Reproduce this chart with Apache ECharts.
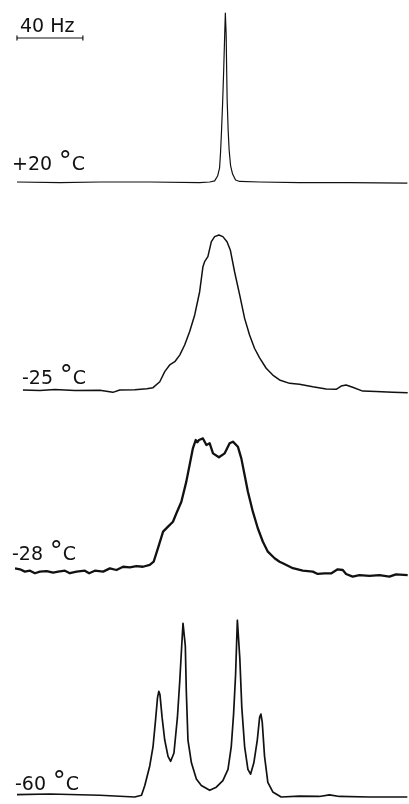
<!DOCTYPE html>
<html>
<head>
<meta charset="utf-8">
<script src="https://cdn.jsdelivr.net/npm/echarts@6/dist/echarts.min.js"></script>
<style>
html,body{margin:0;padding:0;background:#fff;}
#chart{width:409px;height:804px;}
</style>
</head>
<body>
<div id="chart"></div>
<script>
// Frequency axis in Hz, intensity in arbitrary units (0 = baseline, 100 = tallest)
const labelTemps = ['+20', '-25', '-28', '-60'];
const labelUnit = '°C';
const scaleBarHz = [0, 40];
const scaleBarLabel = '40 Hz';

const spec20 = [[0,0],[26.1,-0.3],[50.3,0],[80.6,0],[110.9,-0.3],[117.0,0],[120.0,0.6],[121.8,3.3],[123.0,7.8],[123.6,16.7],[124.2,28.9],[124.8,42.8],[125.5,62.2],[126.1,81.7],[126.5,93.9],[127.0,81.7],[127.3,62.2],[127.6,45.6],[128.2,28.9],[128.8,17.8],[129.7,8.9],[130.9,4.4],[132.7,1.1],[135.2,0.3],[147.3,0],[171.5,-0.3],[201.8,-0.3],[237.0,-0.6]];

const spec25 = [[3.6,0],[13.9,-0.3],[23.0,0.3],[35.2,-0.3],[50.3,-0.2],[58.2,-1.3],[62.4,0],[71.5,0.2],[78.8,0.7],[82.6,1.3],[86.7,4.6],[89.7,10.2],[92.7,13.9],[95.8,15.7],[98.8,19.4],[101.8,25.0],[104.8,32.4],[107.9,41.7],[110.9,54.6],[112.9,68.5],[113.9,71.3],[115.9,74.1],[118.0,82.4],[120.0,85.2],[122.6,86.1],[125.0,85.2],[127.5,82.4],[129.5,77.8],[132.1,65.7],[135.2,52.8],[138.2,39.8],[141.2,30.6],[144.2,23.2],[147.3,17.8],[151.3,12.1],[155.3,8.3],[159.4,5.6],[165.5,3.7],[171.5,3.2],[179.6,1.8],[187.7,0.6],[193.8,0.4],[196.8,2.2],[199.8,2.8],[203.8,1.5],[209.9,-0.6],[218.0,-0.9],[228.1,-1.3],[237.2,-1.5]];

const spec28 = [[-1.2,0.9],[1.8,0.4],[4.8,-0.9],[7.9,-0.4],[10.9,-1.8],[13.9,-0.9],[18.0,-0.6],[22.0,-1.5],[25.0,-0.9],[29.1,-0.4],[32.1,-1.8],[36.2,-0.9],[41.2,-0.4],[43.8,-1.8],[47.3,-0.4],[52.3,-0.9],[56.4,0.9],[60.4,0],[64.4,1.8],[68.5,1.5],[72.5,2.2],[76.5,1.8],[80.6,2.8],[83.0,4.6],[85.6,12.1],[88.7,21.3],[91.7,24.1],[94.7,26.8],[96.8,31.5],[99.8,37.9],[102.8,49.1],[104.8,58.3],[106.8,67.6],[108.5,72.2],[109.5,71.0],[110.5,72.2],[111.5,71.5],[112.9,73.1],[115.0,69.4],[117.0,70.4],[119.0,64.8],[122.6,62.6],[126.1,64.8],[129.1,70.4],[131.1,71.3],[134.1,68.5],[136.2,62.0],[138.2,52.8],[140.2,43.5],[143.2,32.4],[146.2,23.2],[149.3,15.7],[152.3,10.2],[156.4,6.5],[159.4,4.6],[161.4,3.7],[167.5,1.0],[173.5,-0.4],[179.6,-0.9],[182.6,-2.2],[186.7,-1.9],[190.7,-1.9],[194.7,0.4],[197.8,0],[199.8,-2.2],[203.8,-3.7],[207.9,-2.8],[214.0,-3.3],[220.0,-2.8],[226.1,-3.7],[230.1,-2.4],[237.2,-2.8]];

const spec60 = [[0,0.4],[20.0,0.7],[50.3,0],[71.5,-1],[75.6,0],[77.6,5.6],[80.6,16.7],[82.6,27.8],[84.1,42.6],[85.3,55.6],[86.1,59.3],[86.8,57.4],[88.1,44.4],[89.7,31.5],[91.7,22.2],[93.3,19.4],[95.3,24.1],[97.4,44.4],[98.8,64.8],[100.0,85.2],[100.8,98.1],[101.4,98.1],[102.2,85.2],[102.8,59.3],[103.8,31.5],[105.9,18.5],[108.9,9.3],[111.9,5.6],[117.0,2.8],[121.0,4.6],[125.0,8.3],[128.1,14.8],[130.1,27.8],[131.5,46.3],[132.7,68.5],[133.8,100],[134.5,100],[135.3,77.8],[136.5,50],[138.2,27.8],[140.2,14.8],[141.8,12.0],[143.8,18.5],[145.9,31.5],[147.3,44.4],[148.1,46.3],[148.9,41.7],[150.3,22.2],[152.3,7.4],[155.3,1.9],[160.4,-1],[171.5,-0.5],[183.6,-0.7],[189.7,0.2],[195.8,-0.7],[213.9,-1],[237.0,-1]];

const spectra = [spec20, spec25, spec28, spec60];
const lineWidths = [1.2, 1.5, 2.3, 1.7];
const gridTops = [2, 210, 390, 620];
// label anchor: [left x, vertical middle of digits]
const labelPos = [[12,165],[22,379],[12,555],[15,785]];

const chart = echarts.init(document.getElementById('chart'), null, {renderer:'canvas'});
const grids = gridTops.map(t => ({left: 8.75, width: 400.95, top: t, height: 189}));
const xAxes = gridTops.map((t,i) => ({type:'value', gridIndex:i, min:-5, max:238, show:false}));
const yAxes = gridTops.map((t,i) => ({type:'value', gridIndex:i, min:-5, max:100, show:false}));
const ink = '#111';
const series = spectra.map((d,i) => ({
  type:'line', xAxisIndex:i, yAxisIndex:i, data:d, showSymbol:false, symbol:'none',
  lineStyle:{color:ink, width:lineWidths[i], join:'round'}, silent:true, animation:false
}));
series.push({
  type:'line', xAxisIndex:0, yAxisIndex:0,
  data: scaleBarHz.map(h => [h, 80]),
  symbol:'rect', symbolSize:[1.2,5], showSymbol:true, itemStyle:{color:ink},
  lineStyle:{color:ink, width:1.2}, animation:false, silent:true
});
const fam = '"DejaVu Sans", "Liberation Sans", sans-serif';
const graphic = labelTemps.map((t,i) => ({
  type:'text', x: labelPos[i][0], y: labelPos[i][1],
  style:{
    text: '{n|' + t + '}  {d|' + labelUnit.charAt(0) + '}{c|' + labelUnit.charAt(1) + '}',
    verticalAlign:'middle', fill:ink,
    rich:{
      n:{fontFamily:fam, fontSize:19, fill:ink},
      d:{fontFamily:fam, fontSize:26, fill:ink, padding:[0,0,4,0]},
      c:{fontFamily:fam, fontSize:19, fill:ink}
    }
  }
}));
graphic.push({type:'text', x:20, y:27, style:{text:scaleBarLabel, fontFamily:fam, fontSize:19, fill:ink, verticalAlign:'middle'}});
chart.setOption({
  backgroundColor:'#fff',
  animation:false,
  grid:grids, xAxis:xAxes, yAxis:yAxes, series:series, graphic:graphic
});
</script>
</body>
</html>
